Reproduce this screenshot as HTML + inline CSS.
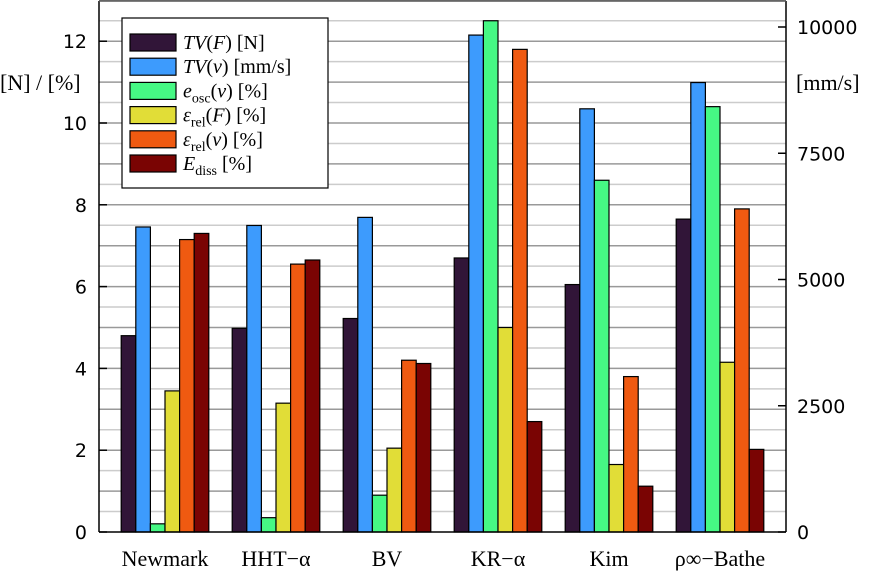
<!DOCTYPE html>
<html><head><meta charset="utf-8"><style>
body{margin:0;background:#fff;}
svg{display:block;}
.tk{font-family:"DejaVu Sans",sans-serif;font-size:19px;fill:#000;}
.lb{font-family:"Liberation Serif",serif;font-size:22px;fill:#000;}
.lg{font-family:"Liberation Serif",serif;font-size:20px;fill:#000;}
</style></head><body>
<svg id="chart" width="875" height="573"></svg>
<script>
const categories=["Newmark","HHT\u2212\u03b1","BV","KR\u2212\u03b1","Kim","\u03c1\u221e\u2212Bathe"];
const tvF=[4.8,4.98,5.22,6.7,6.05,7.65];
const tvV=[6040,6070,6230,9840,8380,8900];
const eOsc=[0.2,0.35,0.9,12.5,8.6,10.4];
const epsF=[3.45,3.15,2.05,5.0,1.65,4.15];
const epsV=[7.15,6.55,4.2,11.8,3.8,7.9];
const eDiss=[7.3,6.65,4.12,2.7,1.12,2.02];
const leftTicks=[0,2,4,6,8,10,12];
const rightTicks=[0,2500,5000,7500,10000];
const NS="http://www.w3.org/2000/svg";
const svg=document.getElementById('chart');
const X0=99,X1=786,Y0=532,YT=1;
const yL=v=>Y0-v*40.9;
const yR=v=>Y0-v*0.0505;
const xC=i=>165+i*111;
function mk(t,a,p){const e=document.createElementNS(NS,t);for(const k in a)e.setAttribute(k,a[k]);(p||svg).appendChild(e);return e;}
for(let v=0.5;v<=13;v+=0.5){const g=mk('line',{x1:X0,x2:X1,y1:yL(v),y2:yL(v),stroke:(v%1===0)?'#999':'#ccc','stroke-width':1.5});

}
const series=[[tvF,'#311538',yL,'tv-f'],[tvV,'#3d9bfd',yR,'tv-v'],[eOsc,'#46f884',yL,'e-osc'],[epsF,'#e1dd37',yL,'eps-rel-f'],[epsV,'#ef5a11',yL,'eps-rel-v'],[eDiss,'#7a0403',yL,'e-diss']];
const bw=14.6;
categories.forEach((c,i)=>{
 series.forEach((s,j)=>{
  const y=s[2](s[0][i]);const x=xC(i)-3*bw+j*bw;
  const r=mk('rect',{x:x,y:y,width:bw,height:Y0-y,fill:s[1],stroke:'#000','stroke-width':1.2});
  
  
 });
 const t=mk('text',{x:xC(i),y:566,'text-anchor':'middle',class:'lb'});t.textContent=c;
 
 
});
mk('line',{x1:X0,x2:X0,y1:YT,y2:Y0,stroke:'#000','stroke-width':1.5});
mk('line',{x1:X1,x2:X1,y1:YT,y2:Y0,stroke:'#000','stroke-width':1.5});
mk('line',{x1:X0,x2:X1,y1:Y0,y2:Y0,stroke:'#000','stroke-width':1.5});
mk('line',{x1:X0,x2:X1,y1:YT,y2:YT,stroke:'#555','stroke-width':1.5});
leftTicks.forEach(v=>{mk('line',{x1:X0,x2:X0+8,y1:yL(v),y2:yL(v),stroke:'#000','stroke-width':1.5});
 const t=mk('text',{x:87,y:yL(v)+7,'text-anchor':'end',class:'tk'});t.textContent=v;
 
 });
rightTicks.forEach(v=>{mk('line',{x1:X1-8,x2:X1,y1:yR(v),y2:yR(v),stroke:'#000','stroke-width':1.5});
 const t=mk('text',{x:797,y:yR(v)+7,class:'tk'});t.textContent=v;
 
 });
let t=mk('text',{x:0,y:90,class:'lb'});t.textContent='[N] / [%]';


t=mk('text',{x:796,y:90,class:'lb'});t.textContent='[mm/s]';


const lg=mk('g',{});


mk('rect',{x:122,y:18,width:206,height:170,fill:'#fff',stroke:'#000','stroke-width':1.2},lg);
const labels=['<i>TV</i>(<i>F</i>) [N]','<i>TV</i>(<i>v</i>) [mm/s]','<i>e</i><tspan font-size="14" dy="5">osc</tspan><tspan dy="-5">(<i>v</i>) [%]</tspan>','<i>ε</i><tspan font-size="14" dy="5">rel</tspan><tspan dy="-5">(<i>F</i>) [%]</tspan>','<i>ε</i><tspan font-size="14" dy="5">rel</tspan><tspan dy="-5">(<i>v</i>) [%]</tspan>','<i>E</i><tspan font-size="14" dy="5">diss</tspan><tspan dy="-5"> [%]</tspan>'];
series.forEach((s,j)=>{const y=34+j*24.2;
 mk('rect',{x:130,y:y,width:46,height:17,fill:s[1],stroke:'#000','stroke-width':1.2},lg);
 const tx=mk('text',{x:183,y:y+15,class:'lg'},lg);tx.innerHTML=labels[j].replace(/<i>/g,'<tspan font-style="italic">').replace(/<\/i>/g,'</tspan>');
 
 
});
</script>
</body></html>
